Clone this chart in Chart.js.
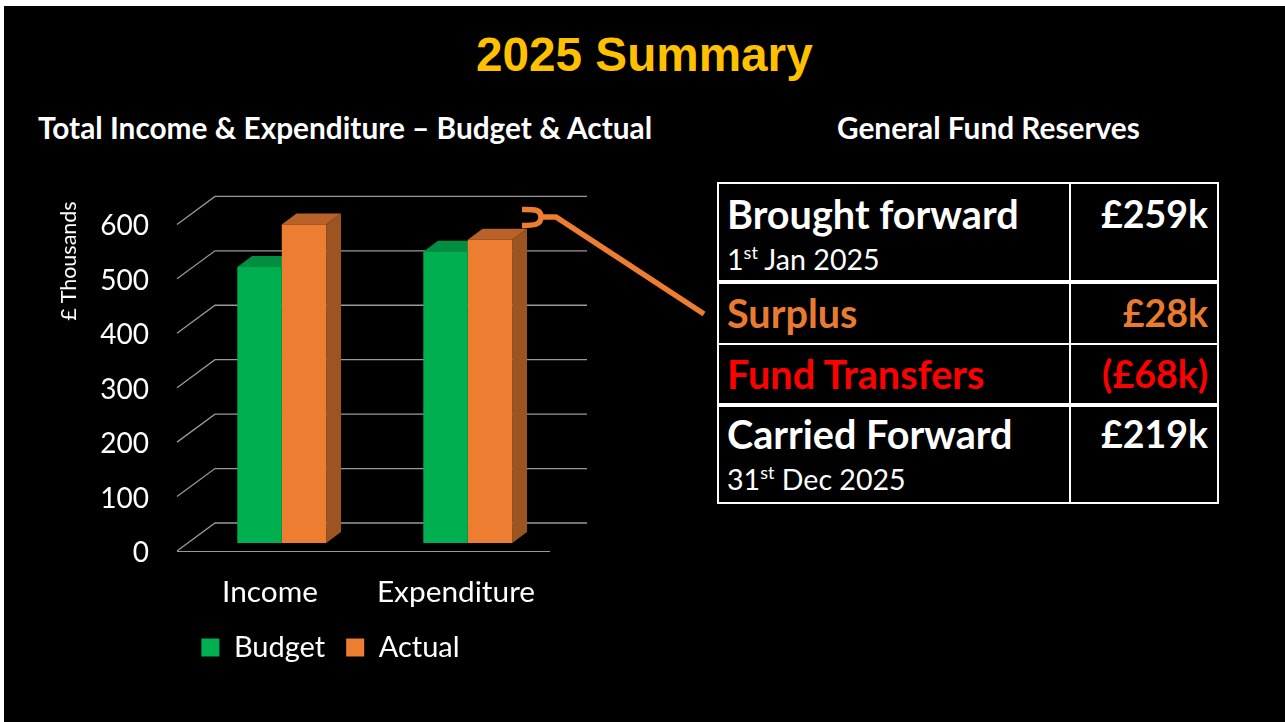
<!DOCTYPE html>
<html>
<head>
<meta charset="utf-8">
<title>2025 Summary</title>
<script src="https://cdn.jsdelivr.net/npm/chart.js@4"></script>
<style>
html, body { margin: 0; padding: 0; background: #fff; overflow: hidden; }
#slide { position: absolute; left: 4px; top: 6px; width: 1281px; height: 716px; background: #000; }
.txt { position: absolute; white-space: nowrap; color: #fff; font-family: Lato, sans-serif; font-weight: 700; }
#title { left: 476px; top: 27px; font: bold 47.7px "Liberation Sans", sans-serif; color: #FFC000; }
#head1 { left: 38px; top: 110px; font-size: 29.8px; }
#head2 { left: 837px; top: 110px; font-size: 29.8px; }
#ytitle { left: 68px; top: 261px; font-size: 21.5px; font-weight: 400; transform: translate(-50%, -50%) rotate(-90deg); }
#chart { position: absolute; left: 40px; top: 170px; }
#callout { position: absolute; left: 0; top: 0; }
#fund { position: absolute; left: 717px; top: 182px; width: 502px; height: 321px; border-collapse: collapse; table-layout: fixed; font-family: Lato, sans-serif; color: #fff; }
#fund td { border: 2px solid #fff; padding: 8px 9px 0 8px; vertical-align: top; font-weight: 700; font-size: 39.6px; line-height: 42px; }
#fund td:first-child { width: 333px; }
#fund td:last-child { text-align: right; font-size: 37.5px; }
#fund .sub { display: block; margin-top: 7px; font-weight: 400; font-size: 28.6px; line-height: 34px; }
#fund sup { font-size: 18px; line-height: 0; }
#fund tr.thick td { border-top-width: 4px; }
#fund tr:first-child td { padding-top: 9px; }
#fund tr:last-child td { padding-top: 6px; }
</style>
</head>
<body>
<div id="slide"></div>
<div class="txt" id="title">2025 Summary</div>
<div class="txt" id="head1">Total Income &amp; Expenditure – Budget &amp; Actual</div>
<div class="txt" id="head2">General Fund Reserves</div>
<canvas id="chart" width="560" height="510"></canvas>
<div class="txt" id="ytitle">£ Thousands</div>
<table id="fund"></table>
<svg id="callout" width="1285" height="722">
  <path d="M522 209.5 C534 209.5 541 209 541 217 C541 225 534 225.5 522 225.5 M540 217 L556 217 L704 314" fill="none" stroke="#ED7D31" stroke-width="5.5"/>
</svg>
<script>
const categories = ['Income', 'Expenditure'];
const budget = [507, 535];
const actual = [585, 557];
const yMax = 600;
const yStep = 100;

const rowLabels = ['Brought forward', 'Surplus', 'Fund Transfers', 'Carried Forward'];
const rowDates = [['1', 'st', ' Jan 2025'], null, null, ['31', 'st', ' Dec 2025']];
const rowValues = ['£259k', '£28k', '(£68k)', '£219k'];
const rowColors = ['#fff', '#E97B30', '#FF0000', '#fff'];
const rowHeights = [99, 62, 61, 98];
const rowThick = [false, true, false, true];

// table on the right
const fund = document.getElementById('fund');
rowLabels.forEach(function(label, i) {
    const tr = document.createElement('tr');
    tr.style.height = rowHeights[i] + 'px';
    tr.style.color = rowColors[i];
    if (rowThick[i]) tr.className = 'thick';
    const left = document.createElement('td');
    left.textContent = label;
    if (rowDates[i]) {
        const sub = document.createElement('span');
        sub.className = 'sub';
        sub.innerHTML = rowDates[i][0] + '<sup>' + rowDates[i][1] + '</sup>' + rowDates[i][2];
        left.appendChild(sub);
    }
    const right = document.createElement('td');
    right.textContent = rowValues[i];
    tr.appendChild(left);
    tr.appendChild(right);
    fund.appendChild(tr);
});

// depth of the fake 3D box, in pixels
const wallDx = 38, wallDy = 28, wallRight = 587;
const barDx = 14.7, barDy = 11;
const shiftDx = 11.8, shiftDy = 8;
const gridColor = '#999999';
const topColors = ['#008F40', '#B8622A'];
const sideColors = ['#008F40', '#9C5520'];
const legendShift = 36;

const box3d = {
    id: 'box3d',
    afterLayout(chart) {
        // legend is not centred under the plot in the original
        chart.legend.left += legendShift;
        chart.legend.right += legendShift;
    },
    beforeDatasetsDraw(chart) {
        const ctx = chart.ctx;
        const area = chart.chartArea;
        const y = chart.scales.y;
        ctx.save();
        ctx.strokeStyle = gridColor;
        ctx.lineWidth = 1.3;
        y.ticks.forEach(function(t) {
            const py = y.getPixelForValue(t.value);
            ctx.beginPath();
            ctx.moveTo(area.left, py);
            ctx.lineTo(area.left + wallDx, py - wallDy);
            ctx.lineTo(wallRight - chart.canvas.offsetLeft, py - wallDy);
            ctx.stroke();
        });
        ctx.restore();

        // bars sit part way back on the floor
        ctx.save();
        ctx.translate(shiftDx, shiftDy * -1);
        chart.data.datasets.forEach(function(ds, d) {
            chart.getDatasetMeta(d).data.forEach(function(bar) {
                const l = bar.x - bar.width / 2, r = bar.x + bar.width / 2;
                ctx.fillStyle = topColors[d];
                ctx.beginPath();
                ctx.moveTo(l, bar.y);
                ctx.lineTo(l + barDx, bar.y - barDy);
                ctx.lineTo(r + barDx, bar.y - barDy);
                ctx.lineTo(r, bar.y);
                ctx.fill();
                ctx.fillStyle = sideColors[d];
                ctx.beginPath();
                ctx.moveTo(r, bar.y);
                ctx.lineTo(r + barDx, bar.y - barDy);
                ctx.lineTo(r + barDx, bar.base - barDy);
                ctx.lineTo(r, bar.base);
                ctx.fill();
            });
        });
    },
    afterDatasetsDraw(chart) {
        chart.ctx.restore();
    }
};

new Chart(document.getElementById('chart'), {
    type: 'bar',
    data: {
        labels: categories,
        datasets: [
            { label: 'Budget', data: budget, backgroundColor: '#00B050' },
            { label: 'Actual', data: actual, backgroundColor: '#ED7D31' }
        ]
    },
    options: {
        responsive: false,
        animation: false,
        layout: { padding: { top: 54.4, right: 51, left: 0, bottom: 8 } },
        datasets: { bar: { barPercentage: 1, categoryPercentage: 0.4785 } },
        plugins: {
            tooltip: { enabled: false },
            legend: {
                position: 'bottom',
                labels: { color: '#fff', boxWidth: 18, boxHeight: 18, padding: 21, font: { family: 'Lato', size: 29 } }
            }
        },
        scales: {
            x: {
                afterFit(scale) { scale.height = 61; },
                grid: { display: false },
                border: { color: gridColor },
                ticks: { color: '#fff', padding: 16, font: { family: 'Lato', size: 29.8 } }
            },
            y: {
                min: 0,
                max: yMax,
                afterFit(scale) { scale.width = 137; },
                grid: { display: false, drawTicks: false },
                border: { display: false },
                ticks: { stepSize: yStep, color: '#fff', padding: 28, labelOffset: 2, font: { family: 'Lato', size: 28 } }
            }
        }
    },
    plugins: [box3d]
});
</script>
</body>
</html>
